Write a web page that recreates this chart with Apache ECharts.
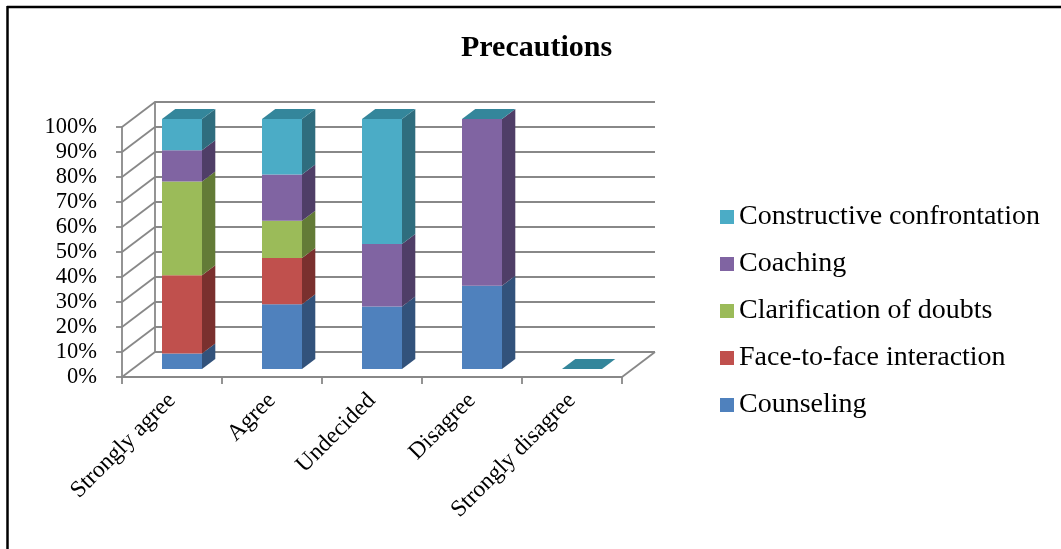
<!DOCTYPE html>
<html>
<head>
<meta charset="utf-8">
<script src="https://cdn.jsdelivr.net/npm/echarts@6/dist/echarts.min.js"></script>
<style>
html,body{margin:0;padding:0;background:#fff;}
#chart{width:1061px;height:549px;}
</style>
</head>
<body>
<div id="chart"></div>
<script>
// ---- data ----
var categories = ['Strongly agree', 'Agree', 'Undecided', 'Disagree', 'Strongly disagree'];
var counseling = [6.25, 25.9, 25, 33.3, 0];
var faceToFace = [31.25, 18.5, 0, 0, 0];
var clarification = [37.5, 14.8, 0, 0, 0];
var coaching = [12.5, 18.5, 25, 66.7, 0];
var constructive = [12.5, 22.2, 50, 0, 0];
var seriesNames = ['Counseling', 'Face-to-face interaction', 'Clarification of doubts', 'Coaching', 'Constructive confrontation'];
var yTicks = [0, 10, 20, 30, 40, 50, 60, 70, 80, 90, 100];

// ---- styles ----
var frontColors = ['#4F81BD', '#C0504D', '#9BBB59', '#8064A2', '#4BACC6'];
var sideColors = ['#32527B', '#7A302E', '#637B37', '#4F3E67', '#2F6D7E'];
var topColor = '#34869B';
var gridColor = '#888888';
var FONT = "'Liberation Serif', 'Times New Roman', serif";
var DX = 33, DY = -25; // wall depth

var allSeries = [counseling, faceToFace, clarification, coaching, constructive];
// 100% stacked: normalize each category
var totals = categories.map(function (c, i) {
  var s = 0; allSeries.forEach(function (arr) { s += arr[i]; }); return s;
});
function pct(arr, i) { return totals[i] > 0 ? arr[i] / totals[i] * 100 : 0; }
var stacked = [];
var cumul = categories.map(function () { return 0; });
allSeries.forEach(function (arr, si) {
  var d = [];
  categories.forEach(function (c, i) {
    var b = cumul[i], t = b + pct(arr, i);
    d.push([i, b, t]);
    cumul[i] = t;
  });
  stacked.push(d);
});

function barRender(si) {
  return function (params, api) {
    var idx = api.value(0), base = api.value(1), top = api.value(2);
    var band = api.size([1, 0])[0];
    var pB = api.coord([idx, base]);
    var pT = api.coord([idx, top]);
    var w = band * 0.4, off = band * 0.1, dx = band * 0.133, dy = -10, lift = -8;
    var x0 = pB[0] - w / 2 + off, x1 = x0 + w;
    var yb = pB[1] + lift, yt = pT[1] + lift;
    var children = [];
    if (top - base > 0.0001) {
      children.push({
        type: 'rect', shape: { x: x0, y: yt, width: w, height: yb - yt },
        style: { fill: frontColors[si] }
      });
      children.push({
        type: 'polygon', shape: { points: [[x1, yb], [x1 + dx, yb + dy], [x1 + dx, yt + dy], [x1, yt]] },
        style: { fill: sideColors[si] }
      });
    }
    if (si === allSeries.length - 1) {
      children.push({
        type: 'polygon', shape: { points: [[x0, yt], [x1, yt], [x1 + dx, yt + dy], [x0 + dx, yt + dy]] },
        style: { fill: topColor }
      });
    }
    return { type: 'group', children: children };
  };
}

var series = [];
seriesNames.forEach(function (name, si) {
  series.push({
    name: name,
    type: 'custom',
    xAxisIndex: 0, yAxisIndex: 0,
    z: 10,
    itemStyle: { color: frontColors[si] },
    encode: { x: 0, y: [1, 2] },
    renderItem: barRender(si),
    data: stacked[si]
  });
});
// left wall diagonals + floor right edge
series.push({
  name: 'walls',
  type: 'custom',
  xAxisIndex: 0, yAxisIndex: 0,
  z: 1, silent: true,
  renderItem: function (params, api) {
    var v = api.value(1);
    var p = api.coord([0, v]);
    var cs = params.coordSys;
    var children = [{
      type: 'line', shape: { x1: cs.x, y1: p[1], x2: cs.x + DX, y2: p[1] + DY },
      style: { stroke: gridColor, lineWidth: 1.8 }
    }];
    if (v === 0) {
      children.push({
        type: 'line', shape: { x1: cs.x + cs.width, y1: p[1], x2: cs.x + cs.width + DX, y2: p[1] + DY },
        style: { stroke: gridColor, lineWidth: 1.8 }
      });
    }
    return { type: 'group', children: children };
  },
  data: yTicks.map(function (t) { return [0, t]; })
});

var chart = echarts.init(document.getElementById('chart'), null, { renderer: 'canvas' });
chart.setOption({
  backgroundColor: '#ffffff',
  animation: false,
  title: {
    text: 'Precautions',
    left: 456, top: 28,
    textStyle: { fontFamily: FONT, fontSize: 30, fontWeight: 'bold', color: '#000' }
  },
  legend: {
    orient: 'vertical',
    left: 715, top: 196,
    itemWidth: 14, itemHeight: 14, itemGap: 15,
    icon: 'rect',
    data: seriesNames.slice().reverse(),
    textStyle: { fontFamily: FONT, fontSize: 28, color: '#000', lineHeight: 32 }
  },
  grid: [
    { left: 122, top: 127, width: 500, height: 250 },
    { left: 122 + DX, top: 127 + DY, width: 500, height: 250 }
  ],
  xAxis: [
    {
      type: 'category', gridIndex: 0, data: categories,
      axisLine: { lineStyle: { color: gridColor, width: 1.8 } },
      axisTick: { show: true, length: 7, lineStyle: { color: gridColor, width: 1.8 } },
      axisLabel: { rotate: 45, margin: 20, fontFamily: FONT, fontSize: 23.5, color: '#000', interval: 0 }
    },
    {
      type: 'category', gridIndex: 1, data: categories,
      axisLine: { show: false }, axisTick: { show: false }, axisLabel: { show: false }
    }
  ],
  yAxis: [
    {
      type: 'value', gridIndex: 0, min: 0, max: 100, interval: 10,
      axisLine: { show: true, lineStyle: { color: gridColor, width: 1.8 } },
      axisTick: { show: true, length: 6, lineStyle: { color: gridColor, width: 1.8 } },
      splitLine: { show: false },
      axisLabel: { formatter: '{value}%', margin: 25, fontFamily: FONT, fontSize: 22.5, color: '#000' }
    },
    {
      type: 'value', gridIndex: 1, min: 0, max: 100, interval: 10,
      axisLine: { show: true, lineStyle: { color: gridColor, width: 1.8 } },
      axisTick: { show: false },
      axisLabel: { show: false },
      splitLine: { show: true, lineStyle: { color: gridColor, width: 1.8 } }
    }
  ],
  graphic: [
    { type: 'line', shape: { x1: 7, y1: 7, x2: 1061, y2: 7 }, style: { stroke: '#000', lineWidth: 2.5 } },
    { type: 'line', shape: { x1: 7.5, y1: 6, x2: 7.5, y2: 549 }, style: { stroke: '#000', lineWidth: 2.5 } }
  ],
  series: series
});
</script>
</body>
</html>
